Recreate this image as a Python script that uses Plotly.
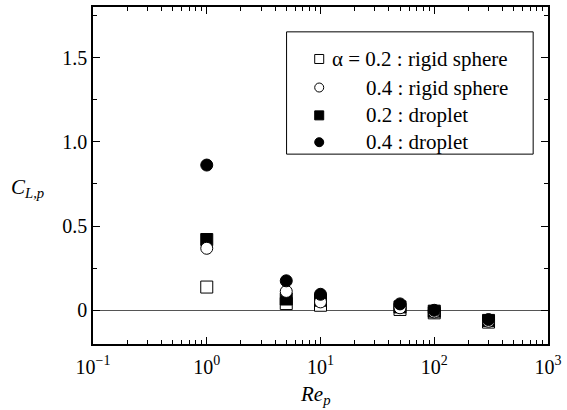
import plotly.graph_objects as go

# ---- data ----
re_p = [1, 5, 10, 50, 100, 300]
rigid_02 = [0.138, 0.040, 0.030, 0.005, -0.015, -0.070]
rigid_04 = [0.368, 0.112, 0.050, 0.015, -0.010, -0.065]
drop_02 = [0.420, 0.067, 0.060, 0.020, -0.005, -0.060]
drop_04 = [0.862, 0.175, 0.095, 0.038, 0.000, -0.055]

x_tickvals = [0.1, 1, 10, 100, 1000]
x_ticktext = ["10<sup>−1</sup>", "10<sup>0</sup>", "10<sup>1</sup>", "10<sup>2</sup>", "10<sup>3</sup>"]
y_tickvals = [0, 0.5, 1.0, 1.5]
y_ticktext = ["0", "0.5", "1.0", "1.5"]

legend_first = ["α = 0.2 : rigid sphere"]
legend_rest = ["0.4 : rigid sphere", "0.2 : droplet", "0.4 : droplet"]

FONT = "Liberation Serif"
W, H = 567, 410
L, R, T, B = 93, 14, 5, 66
pw, ph = W - L - R, H - T - B

def px(x):
    return (x - L) / pw

def py(y):
    return (H - B - y) / ph

series = [
    (rigid_02, "square", "white"),
    (drop_02, "square", "black"),
    (rigid_04, "circle", "white"),
    (drop_04, "circle", "black"),
]

fig = go.Figure()
for vals, sym, fill in series:
    fig.add_trace(go.Scatter(
        x=re_p, y=vals, mode="markers",
        marker=dict(symbol=sym, size=12, color=fill, line=dict(color="black", width=1)),
        showlegend=False, cliponaxis=False,
    ))

leg_rows_y = [57.3, 86, 114, 141]
leg_syms = [("square", "white"), ("circle", "white"), ("square", "black"), ("circle", "black")]
for (sym, fill), ry in zip(leg_syms, leg_rows_y):
    fig.add_trace(go.Scatter(
        x=[px(321.7)], y=[py(ry)], mode="markers", xaxis="x2", yaxis="y2",
        marker=dict(symbol=sym, size=9, color=fill, line=dict(color="black", width=1)),
        showlegend=False,
    ))

minor_x = [m * 10 ** e for e in (-1, 0, 1, 2) for m in range(2, 10)]

fig.update_layout(
    width=W, height=H,
    margin=dict(l=L, r=R, t=T, b=B),
    paper_bgcolor="white", plot_bgcolor="white",
    font=dict(family=FONT, size=20, color="black"),
    xaxis=dict(
        type="log", range=[-1, 3],
        tickmode="array", tickvals=x_tickvals, ticktext=x_ticktext,
        ticks="inside", ticklen=7, tickwidth=1, tickcolor="black",
        minor=dict(tickmode="array", tickvals=minor_x, ticks="inside", ticklen=4,
                   tickwidth=1, tickcolor="black", showgrid=False),
        showline=True, linecolor="black", linewidth=1.5, mirror="allticks",
        showgrid=False, zeroline=False, ticklabelstandoff=4,
        tickfont=dict(family=FONT, size=20),
    ),
    yaxis=dict(
        range=[-0.2, 1.8],
        tickmode="array", tickvals=y_tickvals, ticktext=y_ticktext,
        ticks="inside", ticklen=7, tickwidth=1, tickcolor="black",
        minor=dict(dtick=0.25, tick0=0, ticks="inside", ticklen=4,
                   tickwidth=1, tickcolor="black", showgrid=False),
        showline=True, linecolor="black", linewidth=1.5, mirror="allticks",
        showgrid=False, zeroline=True, zerolinecolor="#555555", zerolinewidth=1,
        tickfont=dict(family=FONT, size=20),
    ),
    xaxis2=dict(domain=[0, 1], range=[0, 1], overlaying="x", visible=False, anchor="y2"),
    yaxis2=dict(domain=[0, 1], range=[0, 1], overlaying="y", visible=False, anchor="x2"),
    shapes=[dict(type="rect", xref="paper", yref="paper",
                 x0=px(288.7), x1=px(538), y0=py(153), y1=py(30),
                 line=dict(color="black", width=1), fillcolor="rgba(0,0,0,0)")],
)

fig.add_annotation(text="<i>C<sub>L,p</sub></i>", xref="paper", yref="paper",
                   x=px(27), y=py(187), xanchor="center", yanchor="middle",
                   showarrow=False, font=dict(family=FONT, size=21))
fig.add_annotation(text="<i>Re<sub>p</sub></i>", xref="paper", yref="paper",
                   x=px(318), y=py(395), xanchor="center", yanchor="middle",
                   showarrow=False, font=dict(family=FONT, size=21))
fig.add_annotation(text=legend_first[0], xref="paper", yref="paper",
                   x=px(333), y=py(leg_rows_y[0]), xanchor="left", yanchor="middle",
                   showarrow=False, font=dict(family=FONT, size=21))
for txt, ry in zip(legend_rest, leg_rows_y[1:]):
    fig.add_annotation(text=txt, xref="paper", yref="paper",
                       x=px(367.3), y=py(ry), xanchor="left", yanchor="middle",
                       showarrow=False, font=dict(family=FONT, size=21))

fig.write_html("out.html")
